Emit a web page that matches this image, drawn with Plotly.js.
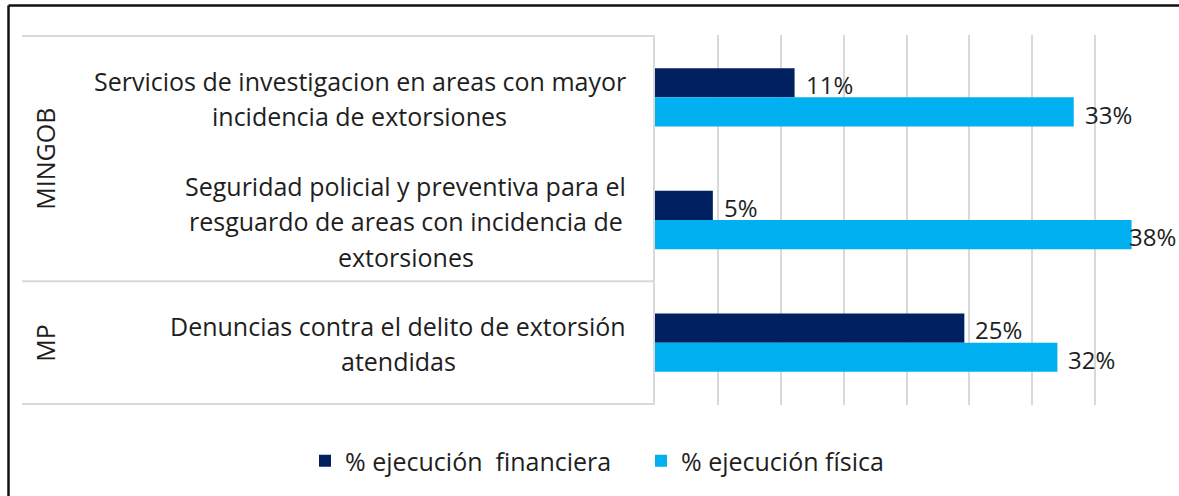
<!DOCTYPE html>
<html>
<head>
<meta charset="utf-8">
<script src="https://cdn.plot.ly/plotly-3.0.1.min.js"></script>
<style>
  html, body { margin: 0; padding: 0; background: #ffffff; }
  #chart { width: 1179px; height: 496px; }
</style>
</head>
<body>
<div id="chart"></div>
<script>
// ---- data ----
const categories = [
  'Servicios de investigacion en areas con mayor<br>incidencia de extorsiones',
  'Seguridad policial y preventiva para el<br>resguardo de areas con incidencia de<br>extorsiones',
  'Denuncias contra el delito de extorsión<br>atendidas'
];
const groups = ['MINGOB', 'MINGOB', 'MP'];
const financiera = [0.111, 0.046, 0.246];
const fisica = [0.333, 0.379, 0.320];
const seriesNames = ['% ejecución\u00a0 financiera', '% ejecución física'];

// ---- style constants ----
const W = 1179, H = 496;
const M = {l: 655, r: 21, t: 35, b: 91};
const plotW = W - M.l - M.r, plotH = H - M.t - M.b;
const xMax = 0.4;
const bargap = 0.524;
const FONT = 'Open Sans, Noto Sans, sans-serif';
const TXT = '#1e1e1e';
const GRID = '#d9d9d9';
const colors = ['#002060', '#00B0F0'];
const LABEL_SIZE = 25;
const LINE_GAP = 35.5;
const LABEL_RIGHT = 29; // px gap between label block and axis

const traces = [financiera, fisica].map((vals, i) => ({
  type: 'bar',
  orientation: 'h',
  name: seriesNames[i],
  y: categories,
  x: vals,
  marker: {color: colors[i], line: {width: 0}},
  hoverinfo: 'x+y'
}));

// text measuring for centred multi-line blocks
const ctx = document.createElement('canvas').getContext('2d');
ctx.font = LABEL_SIZE + 'px "Open Sans"';
const measure = (s) => ctx.measureText(s).width;

const annotations = [];
// category labels: block right-aligned, lines centred inside the block
categories.forEach((c) => {
  const lines = c.split('<br>');
  const n = lines.length;
  const blockW = Math.max(...lines.map(measure));
  lines.forEach((ln, k) => {
    annotations.push({
      xref: 'paper', yref: 'y', x: 0, y: c,
      xanchor: 'center', yanchor: 'middle',
      xshift: -LABEL_RIGHT - blockW / 2,
      yshift: -1 - (k - (n - 1) / 2) * LINE_GAP,
      text: ln, showarrow: false,
      font: {family: FONT, size: LABEL_SIZE, color: TXT}
    });
  });
});
// group labels (rotated)
const uniqGroups = [...new Set(groups)];
uniqGroups.forEach((g) => {
  const idx = groups.map((gg, i) => gg === g ? i : -1).filter(i => i >= 0);
  const mid = (idx[0] + idx[idx.length - 1]) / 2;
  annotations.push({
    xref: 'paper', yref: 'y', x: 0, y: mid,
    xanchor: 'center', yanchor: 'middle', xshift: -(M.l - 45),
    text: g, textangle: -90, showarrow: false,
    font: {family: FONT, size: LABEL_SIZE, color: TXT}
  });
});
// data labels
const bandPx = plotH / categories.length;
const barPx = bandPx * (1 - bargap) / 2;
[financiera, fisica].forEach((vals, s) => {
  vals.forEach((v, i) => {
    const label = Math.round(v * 100) + '%';
    const endPx = v / xMax * plotW + 10 + 52;
    const clamp = endPx > plotW + M.r;
    annotations.push({
      xref: 'x', yref: 'y',
      x: clamp ? xMax : v, y: categories[i],
      xanchor: clamp ? 'right' : 'left', yanchor: 'middle',
      xshift: clamp ? M.r - 1 : 9,
      yshift: (s === 0 ? 1 : -1) * barPx / 2 - 2,
      text: label, showarrow: false,
      font: {family: FONT, size: 24, color: TXT}
    });
  });
});

// table lines + frame
const px2paperX = (px) => (px - M.l) / plotW;
const px2paperY = (py) => 1 - (py - M.t) / plotH;
const shapes = [];
const nCat = categories.length;
const dividers = [-0.5, nCat - 0.5];
for (let i = 1; i < nCat; i++) {
  if (groups[i] !== groups[i - 1]) dividers.push(i - 0.5);
}
dividers.forEach((d) => {
  shapes.push({type: 'line', xref: 'paper', yref: 'y',
    x0: px2paperX(22), x1: 0, y0: d, y1: d,
    line: {color: GRID, width: 2}});
});
// outer chart frame (top and left)
shapes.push({type: 'line', xref: 'paper', yref: 'paper',
  x0: px2paperX(8.5), x1: px2paperX(W), y0: px2paperY(5.5), y1: px2paperY(5.5),
  line: {color: '#111111', width: 2.5}});
shapes.push({type: 'line', xref: 'paper', yref: 'paper',
  x0: px2paperX(8.5), x1: px2paperX(8.5), y0: px2paperY(5.5), y1: px2paperY(H),
  line: {color: '#111111', width: 2.5}});

const layout = {
  width: W, height: H,
  margin: M,
  paper_bgcolor: '#ffffff',
  plot_bgcolor: '#ffffff',
  barmode: 'group',
  bargap: bargap,
  bargroupgap: 0,
  font: {family: FONT, color: TXT},
  xaxis: {
    range: [0, xMax], dtick: 0.05, tick0: 0,
    showgrid: true, gridcolor: GRID, gridwidth: 2,
    zeroline: false, showline: false, showticklabels: false, ticks: '',
    fixedrange: true
  },
  yaxis: {
    type: 'category', autorange: 'reversed',
    showticklabels: false, ticks: '', showgrid: false, zeroline: false,
    showline: true, linecolor: GRID, linewidth: 2,
    fixedrange: true
  },
  showlegend: true,
  legend: {
    orientation: 'h',
    xref: 'paper', yref: 'paper',
    x: px2paperX(305), xanchor: 'left', y: px2paperY(461), yanchor: 'middle',
    font: {family: FONT, size: 25, color: TXT},
    itemclick: false, itemdoubleclick: false,
    entrywidth: 291
  },
  annotations: annotations,
  shapes: shapes
};

Plotly.newPlot('chart', traces, layout, {displayModeBar: false, staticPlot: true});
</script>
</body>
</html>
